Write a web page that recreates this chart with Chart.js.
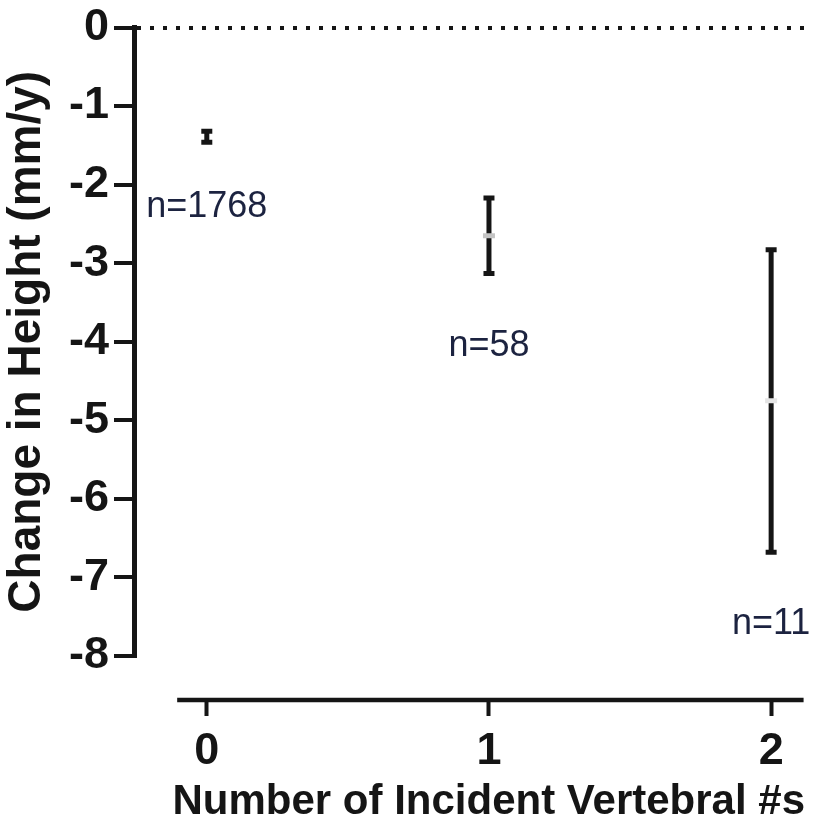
<!DOCTYPE html>
<html><head><meta charset="utf-8">
<script src="https://cdn.jsdelivr.net/npm/chart.js@4/dist/chart.umd.min.js"></script>
<style>html,body{margin:0;padding:0;background:#fff}canvas{display:block}</style>
</head>
<body>
<canvas id="c" width="816" height="823" style="width:816px;height:823px"></canvas>
<script>
// ---- data ----
const categories   = [0, 1, 2];
const xTickValues  = [0, 1, 2];
const yTickValues  = [0, -1, -2, -3, -4, -5, -6, -7, -8];
const meanChange   = [-1.39, -2.65, -4.75];
const upperBar     = [-1.32, -2.17, -2.83];
const lowerBar     = [-1.46, -3.13, -6.68];
const nLabels      = ['n=1768', 'n=58', 'n=11'];
const nLabelY      = [-2.28, -4.06, -7.60];
const xTitle = 'Number of Incident Vertebral #s';
const yTitle = 'Change in Height (mm/y)';

const INK = '#151515';
const FONT = "'Liberation Sans', Arial, sans-serif";

const stemData = [];
categories.forEach((c, i) => {
  stemData.push({x: c, y: upperBar[i]}, {x: c, y: lowerBar[i]}, {x: c, y: null});
});
const capData = [];
categories.forEach((c, i) => {
  capData.push({x: c, y: upperBar[i]}, {x: c, y: lowerBar[i]});
});
const meanData = categories.map((c, i) => ({x: c, y: meanChange[i]}));

const extras = {
  id: 'extras',
  beforeDraw(chart) {
    const ctx = chart.ctx;
    ctx.save(); ctx.fillStyle = '#fff'; ctx.fillRect(0, 0, chart.width, chart.height); ctx.restore();
  },
  afterDraw(chart) {
    const ctx = chart.ctx, xs = chart.scales.x, ys = chart.scales.y, ca = chart.chartArea;
    // detached x axis line
    ctx.save();
    ctx.strokeStyle = INK; ctx.lineWidth = 4.5;
    const yLine = ca.bottom + 44;
    ctx.beginPath();
    ctx.moveTo(xs.getPixelForValue(-0.105), yLine);
    ctx.lineTo(xs.getPixelForValue(2.115), yLine);
    ctx.stroke();
    // n labels
    ctx.fillStyle = '#1c2340';
    ctx.font = '36px ' + FONT;
    ctx.textAlign = 'center'; ctx.textBaseline = 'middle';
    categories.forEach((c, i) => {
      ctx.fillText(nLabels[i], xs.getPixelForValue(c), ys.getPixelForValue(nLabelY[i]));
    });
    ctx.restore();
  }
};

new Chart(document.getElementById('c'), {
  type: 'scatter',
  data: {
    datasets: [
      { // group means (faint)
        data: meanData,
        pointStyle: 'line', pointRadius: 6, pointBorderWidth: 5,
        pointBorderColor: ['rgba(0,0,0,0)', '#c4c4c4', '#e4e4e4'],
        pointBackgroundColor: 'rgba(0,0,0,0)',
        showLine: false
      },
      { // error bar caps
        data: capData,
        pointStyle: 'line', pointRadius: 5.5, pointBorderWidth: 5,
        pointBorderColor: INK, showLine: false
      },
      { // error bar stems
        data: stemData,
        showLine: true, spanGaps: false, borderColor: INK, borderWidth: 5,
        pointRadius: 0, borderCapStyle: 'butt'
      }
    ]
  },
  options: {
    responsive: false, animation: false, devicePixelRatio: 1,
    layout: { padding: { left: 0, right: 6, top: 25, bottom: 0 } },
    plugins: { legend: { display: false }, tooltip: { enabled: false } },
    scales: {
      x: {
        type: 'linear', min: -0.258, max: 2.12,
        afterBuildTicks: s => { s.ticks = xTickValues.map(v => ({value: v})); },
        afterFit: s => { s.height = 167; },
        border: { display: false },
        grid: { drawOnChartArea: false, drawTicks: true, tickLength: 60, tickWidth: 4,
                tickColor: INK, tickBorderDash: [0, 44, 16, 400] },
        ticks: { color: INK, padding: 13, font: { family: FONT, size: 45, weight: 'bold', lineHeight: 1 },
                 callback: v => String(v) },
        title: { display: true, text: xTitle, align: 'end', color: INK,
                 font: { family: FONT, size: 42, weight: 'bold', lineHeight: 1 },
                 padding: { top: 7, bottom: 0 } }
      },
      y: {
        type: 'linear', min: -8, max: 0,
        afterBuildTicks: s => { s.ticks = yTickValues.map(v => ({value: v})); },
        afterFit: s => { s.width = 134; },
        border: { display: true, color: INK, width: 5, dash: [4, 9] },
        grid: { drawOnChartArea: true, drawTicks: true, tickLength: 20, tickWidth: 4,
                lineWidth: 4, tickColor: INK,
                color: c => (c.tick && c.tick.value === 0) ? INK : 'rgba(0,0,0,0)' },
        ticks: { color: INK, padding: 5, font: { family: FONT, size: 45, weight: 'bold', lineHeight: 1 },
                 callback: v => String(v) },
        title: { display: true, text: yTitle, color: INK,
                 font: { family: FONT, size: 46, weight: 'bold' }, padding: 0 }
      }
    }
  },
  plugins: [extras]
});
</script>
</body></html>
